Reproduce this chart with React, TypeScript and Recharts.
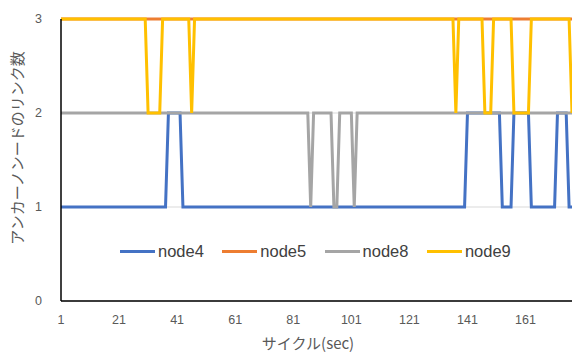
import { LineChart, Line, XAxis, YAxis, CartesianGrid, Legend } from 'recharts';

// cycle index (category axis)
const cycles = Array.from({ length: 177 }, (_, i) => i + 1);

const xTicks = [1, 21, 41, 61, 81, 101, 121, 141, 161];
const yTicks = [0, 1, 2, 3];

// number of links per anchor node
const node4 = [
  1, 1, 1, 1, 1, 1, 1, 1, 1, 1, 1, 1, 1, 1, 1, 1, 1, 1, 1, 1,
  1, 1, 1, 1, 1, 1, 1, 1, 1, 1, 1, 1, 1, 1, 1, 1, 1, 2, 2, 2,
  2, 2, 1, 1, 1, 1, 1, 1, 1, 1, 1, 1, 1, 1, 1, 1, 1, 1, 1, 1,
  1, 1, 1, 1, 1, 1, 1, 1, 1, 1, 1, 1, 1, 1, 1, 1, 1, 1, 1, 1,
  1, 1, 1, 1, 1, 1, 1, 1, 1, 1, 1, 1, 1, 1, 1, 1, 1, 1, 1, 1,
  1, 1, 1, 1, 1, 1, 1, 1, 1, 1, 1, 1, 1, 1, 1, 1, 1, 1, 1, 1,
  1, 1, 1, 1, 1, 1, 1, 1, 1, 1, 1, 1, 1, 1, 1, 1, 1, 1, 1, 1,
  2, 2, 2, 2, 2, 2, 2, 2, 2, 2, 2, 2, 1, 1, 1, 1, 2, 2, 2, 2,
  2, 2, 1, 1, 1, 1, 1, 1, 1, 1, 1, 2, 2, 2, 2, 1, 1,
];

const node5 = [
  3, 3, 3, 3, 3, 3, 3, 3, 3, 3, 3, 3, 3, 3, 3, 3, 3, 3, 3, 3,
  3, 3, 3, 3, 3, 3, 3, 3, 3, 3, 3, 3, 3, 3, 3, 3, 3, 3, 3, 3,
  3, 3, 3, 3, 3, 3, 3, 3, 3, 3, 3, 3, 3, 3, 3, 3, 3, 3, 3, 3,
  3, 3, 3, 3, 3, 3, 3, 3, 3, 3, 3, 3, 3, 3, 3, 3, 3, 3, 3, 3,
  3, 3, 3, 3, 3, 3, 3, 3, 3, 3, 3, 3, 3, 3, 3, 3, 3, 3, 3, 3,
  3, 3, 3, 3, 3, 3, 3, 3, 3, 3, 3, 3, 3, 3, 3, 3, 3, 3, 3, 3,
  3, 3, 3, 3, 3, 3, 3, 3, 3, 3, 3, 3, 3, 3, 3, 3, 3, 3, 3, 3,
  3, 3, 3, 3, 3, 3, 3, 3, 3, 3, 3, 3, 3, 3, 3, 3, 3, 3, 3, 3,
  3, 3, 3, 3, 3, 3, 3, 3, 3, 3, 3, 3, 3, 3, 3, 3, 3,
];

const node8 = [
  2, 2, 2, 2, 2, 2, 2, 2, 2, 2, 2, 2, 2, 2, 2, 2, 2, 2, 2, 2,
  2, 2, 2, 2, 2, 2, 2, 2, 2, 2, 2, 2, 2, 2, 2, 2, 2, 2, 2, 2,
  2, 2, 2, 2, 2, 2, 2, 2, 2, 2, 2, 2, 2, 2, 2, 2, 2, 2, 2, 2,
  2, 2, 2, 2, 2, 2, 2, 2, 2, 2, 2, 2, 2, 2, 2, 2, 2, 2, 2, 2,
  2, 2, 2, 2, 2, 2, 1, 2, 2, 2, 2, 2, 2, 2, 1, 1, 2, 2, 2, 2,
  2, 1, 2, 2, 2, 2, 2, 2, 2, 2, 2, 2, 2, 2, 2, 2, 2, 2, 2, 2,
  2, 2, 2, 2, 2, 2, 2, 2, 2, 2, 2, 2, 2, 2, 2, 2, 2, 2, 2, 2,
  2, 2, 2, 2, 2, 2, 2, 2, 2, 2, 2, 2, 2, 2, 2, 2, 2, 2, 2, 2,
  2, 2, 2, 2, 2, 2, 2, 2, 2, 2, 2, 2, 2, 2, 2, 2, 2,
];

const node9 = [
  3, 3, 3, 3, 3, 3, 3, 3, 3, 3, 3, 3, 3, 3, 3, 3, 3, 3, 3, 3,
  3, 3, 3, 3, 3, 3, 3, 3, 3, 3, 2, 2, 2, 2, 2, 3, 3, 3, 3, 3,
  3, 3, 3, 3, 3, 2, 3, 3, 3, 3, 3, 3, 3, 3, 3, 3, 3, 3, 3, 3,
  3, 3, 3, 3, 3, 3, 3, 3, 3, 3, 3, 3, 3, 3, 3, 3, 3, 3, 3, 3,
  3, 3, 3, 3, 3, 3, 3, 3, 3, 3, 3, 3, 3, 3, 3, 3, 3, 3, 3, 3,
  3, 3, 3, 3, 3, 3, 3, 3, 3, 3, 3, 3, 3, 3, 3, 3, 3, 3, 3, 3,
  3, 3, 3, 3, 3, 3, 3, 3, 3, 3, 3, 3, 3, 3, 3, 3, 2, 3, 3, 3,
  3, 3, 3, 3, 3, 3, 2, 2, 2, 3, 3, 3, 3, 3, 3, 3, 2, 2, 2, 2,
  2, 2, 3, 3, 3, 3, 3, 3, 3, 3, 3, 3, 3, 3, 3, 3, 2,
];

const data = cycles.map((cycle, i) => ({
  cycle,
  node4: node4[i],
  node5: node5[i],
  node8: node8[i],
  node9: node9[i],
}));

const LATIN = '"Liberation Sans", Arial, sans-serif';
const JP = '"Noto Sans CJK JP", sans-serif';
const TEXT = '#595959';

const renderLegend = (props: any) => {
  const { payload } = props;
  return (
    <div style={{ display: 'flex', alignItems: 'center', fontFamily: LATIN, fontSize: 16.5, color: '#404040', lineHeight: '18px' }}>
      {payload.map((p: any) => (
        <div key={p.value} style={{ display: 'flex', alignItems: 'center', width: 102.3 }}>
          <span style={{ display: 'inline-block', width: 35, height: 3, background: p.color, marginRight: 3 }} />
          <span>{p.value}</span>
        </div>
      ))}
    </div>
  );
};

export default function App() {
  return (
    <div style={{ position: 'absolute', left: 0, top: 0, background: '#fff' }}>
      <LineChart width={572} height={353} data={data} margin={{ top: 19, right: 0, bottom: 0, left: 0 }}>
        <CartesianGrid vertical={false} stroke="#D9D9D9" strokeWidth={1} />
        <XAxis
          dataKey="cycle"
          type="number"
          domain={[1, 177]}
          ticks={xTicks}
          interval={0}
          height={52}
          tickLine={false}
          tickSize={6}
          tickMargin={8}
          axisLine={{ stroke: '#000', strokeWidth: 1.5 }}
          tick={{ fill: TEXT, fontSize: 12.5, fontFamily: LATIN }}
          label={{
            content: () => (
              <text x={308} y={342} textAnchor="middle" dominantBaseline="central" fill={TEXT} fontSize={15} fontFamily={JP}>
                サイクル(sec)
              </text>
            ),
          }}
        />
        <YAxis
          type="number"
          domain={[0, 3]}
          ticks={yTicks}
          width={61}
          tickLine={false}
          tickSize={6}
          tickMargin={13}
          axisLine={{ stroke: '#000', strokeWidth: 1.5 }}
          tick={{ fill: TEXT, fontSize: 12.5, fontFamily: LATIN }}
          label={{
            content: () => (
              <text
                x={16}
                y={148}
                transform="rotate(-90 16 148)"
                textAnchor="middle"
                dominantBaseline="central"
                fill={TEXT}
                fontSize={15}
                fontFamily={JP}
              >
                アンカーノンードのリンク数
              </text>
            ),
          }}
        />
        <Legend
          verticalAlign="middle"
          align="center"
          layout="horizontal"
          content={renderLegend}
          wrapperStyle={{ position: 'absolute', left: 120, top: 242, width: 420 }}
        />
        <Line name="node4" dataKey="node4" type="linear" stroke="#4472C4" strokeWidth={3} dot={false} isAnimationActive={false} />
        <Line name="node5" dataKey="node5" type="linear" stroke="#ED7D31" strokeWidth={3} dot={false} isAnimationActive={false} />
        <Line name="node8" dataKey="node8" type="linear" stroke="#A5A5A5" strokeWidth={3} dot={false} isAnimationActive={false} />
        <Line name="node9" dataKey="node9" type="linear" stroke="#FFC000" strokeWidth={3} dot={false} isAnimationActive={false} />
      </LineChart>
    </div>
  );
}
